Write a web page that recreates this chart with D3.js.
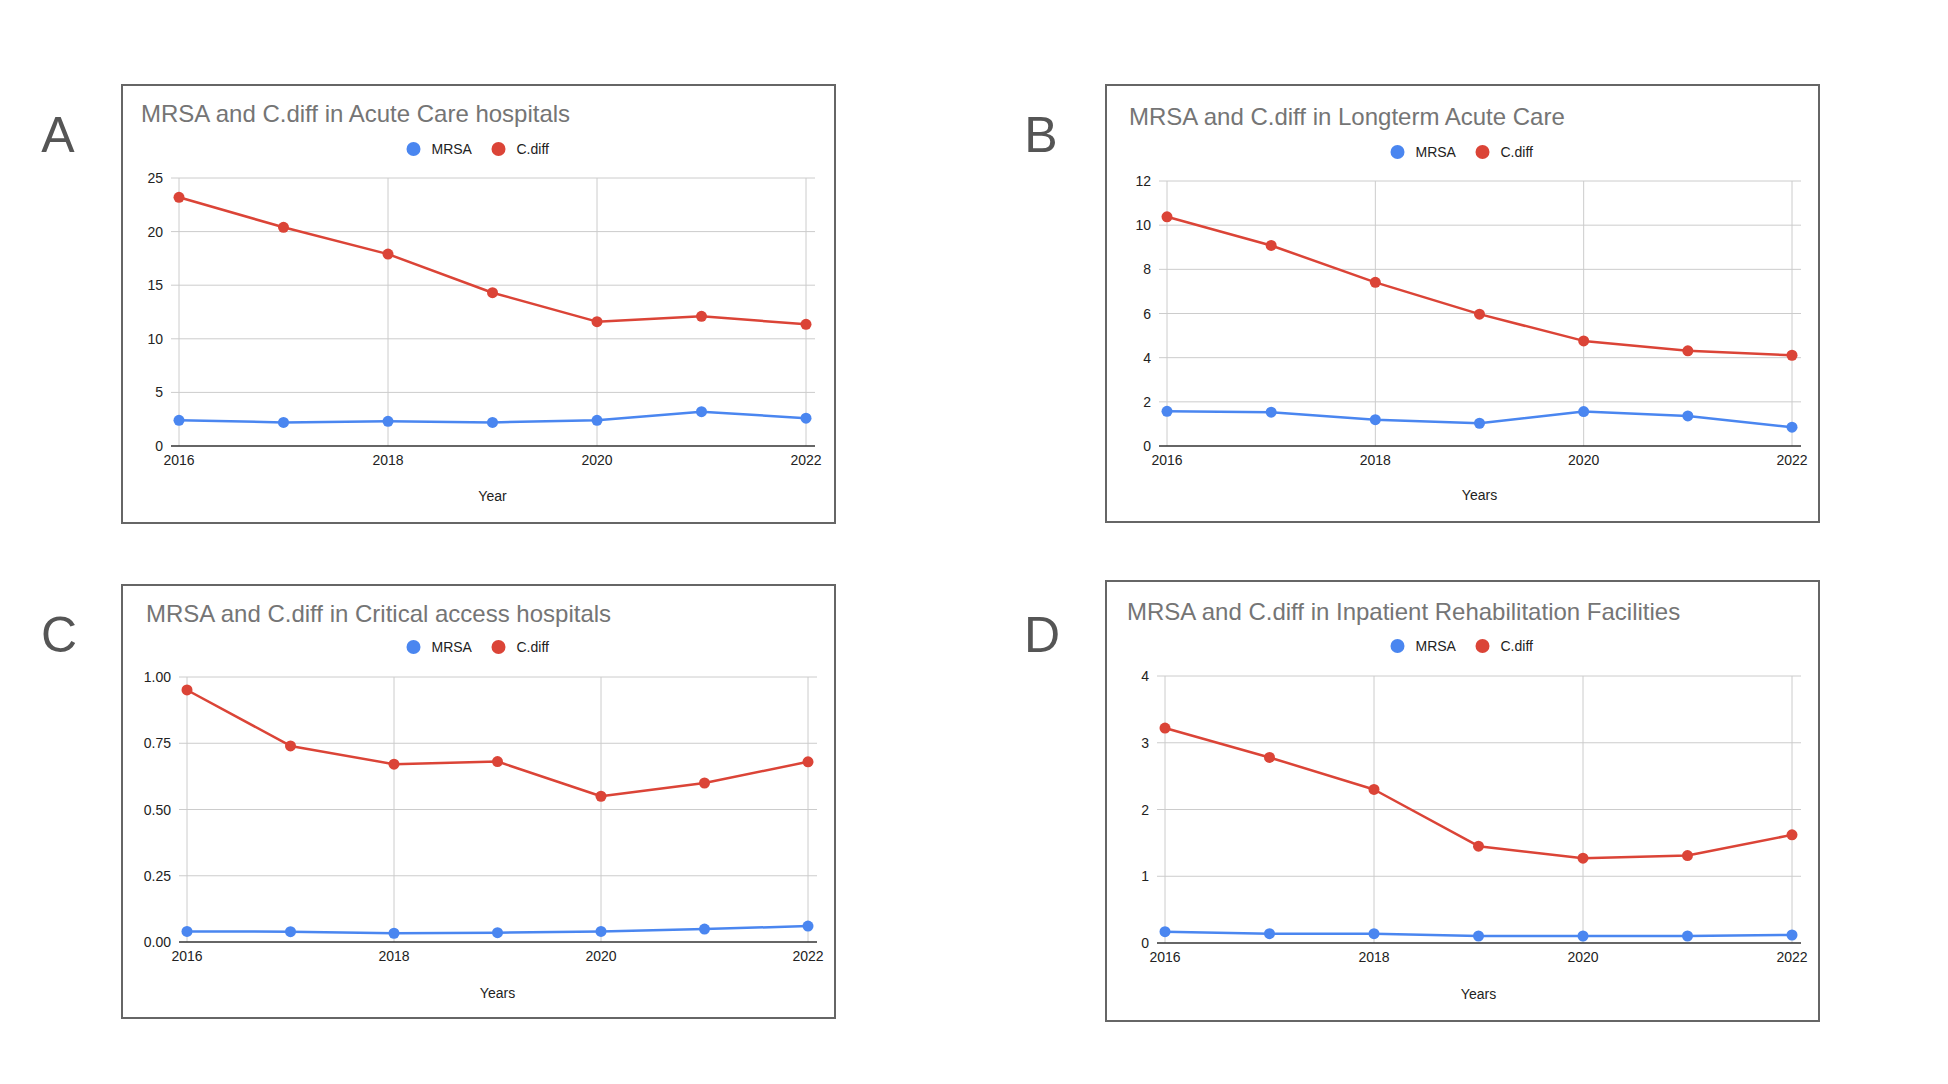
<!DOCTYPE html>
<html>
<head>
<meta charset="utf-8">
<script src="https://cdn.jsdelivr.net/npm/d3@7/dist/d3.min.js"></script>
<style>
  html, body { margin: 0; padding: 0; background: #fff; }
  svg { display: block; }
  text { font-family: "Liberation Sans", Arial, Helvetica, sans-serif; }
</style>
</head>
<body>
<svg id="chart" width="1948" height="1084"></svg>
<script>
// ---- Data ----
const years = [2016, 2017, 2018, 2019, 2020, 2021, 2022];
const xTickYears = [2016, 2018, 2020, 2022];
const seriesNames = ["MRSA", "C.diff"];
const seriesColors = ["#4a86f0", "#db4437"];

const acuteMRSA  = [2.4, 2.2, 2.3, 2.2, 2.4, 3.2, 2.6];
const acuteCdiff = [23.2, 20.4, 17.9, 14.3, 11.6, 12.1, 11.35];
const acuteTicks = [0, 5, 10, 15, 20, 25];

const ltacMRSA  = [1.57, 1.53, 1.19, 1.03, 1.56, 1.36, 0.85];
const ltacCdiff = [10.38, 9.08, 7.41, 5.97, 4.76, 4.31, 4.11];
const ltacTicks = [0, 2, 4, 6, 8, 10, 12];

const cahMRSA  = [0.040, 0.039, 0.033, 0.035, 0.040, 0.049, 0.060];
const cahCdiff = [0.951, 0.740, 0.671, 0.681, 0.550, 0.600, 0.680];
const cahTicks = [0, 0.25, 0.5, 0.75, 1.0];

const irfMRSA  = [0.17, 0.14, 0.14, 0.105, 0.105, 0.105, 0.12];
const irfCdiff = [3.22, 2.78, 2.30, 1.45, 1.27, 1.31, 1.62];
const irfTicks = [0, 1, 2, 3, 4];

const panelLetters = ["A", "B", "C", "D"];
const panelTitles = [
  "MRSA and C.diff in Acute Care hospitals",
  "MRSA and C.diff in Longterm Acute Care",
  "MRSA and C.diff in Critical access hospitals",
  "MRSA and C.diff in Inpatient Rehabilitation Facilities"
];
const xAxisTitles = ["Year", "Years", "Years", "Years"];

// ---- Layout (positions only) ----
const layouts = [
  { box: [122, 85, 835, 523],   letter: [58, 135],   titleX: 141,  titleY: 122, legendY: 149,
    x0: 179,  x1: 806,  y0: 446, y1: 178, xLabelY: 496, fmt: d3.format("d") },
  { box: [1106, 85, 1819, 522], letter: [1041, 135], titleX: 1129, titleY: 125, legendY: 152,
    x0: 1167, x1: 1792, y0: 446, y1: 181, xLabelY: 495, fmt: d3.format("d") },
  { box: [122, 585, 835, 1018], letter: [59, 635],   titleX: 146,  titleY: 622, legendY: 647,
    x0: 187,  x1: 808,  y0: 942, y1: 677, xLabelY: 993, fmt: d3.format(".2f") },
  { box: [1106, 581, 1819, 1021], letter: [1042, 635], titleX: 1127, titleY: 620, legendY: 646,
    x0: 1165, x1: 1792, y0: 943, y1: 676, xLabelY: 994, fmt: d3.format("d") }
];

const panelData = [
  { series: [acuteMRSA, acuteCdiff], ticks: acuteTicks },
  { series: [ltacMRSA, ltacCdiff],   ticks: ltacTicks },
  { series: [cahMRSA, cahCdiff],     ticks: cahTicks },
  { series: [irfMRSA, irfCdiff],     ticks: irfTicks }
];

const svg = d3.select("#chart");

panelData.forEach((pd, i) => {
  const L = layouts[i];
  const g = svg.append("g");
  const [bx0, by0, bx1, by1] = L.box;

  // Panel letter
  g.append("text")
    .attr("x", L.letter[0]).attr("y", L.letter[1])
    .attr("text-anchor", "middle").attr("dominant-baseline", "central")
    .attr("font-size", 50).attr("fill", "#555")
    .text(panelLetters[i]);

  // Box
  g.append("rect")
    .attr("x", bx0).attr("y", by0)
    .attr("width", bx1 - bx0).attr("height", by1 - by0)
    .attr("fill", "#fff").attr("stroke", "#666").attr("stroke-width", 2);

  // Title
  g.append("text")
    .attr("x", L.titleX).attr("y", L.titleY)
    .attr("font-size", 24).attr("fill", "#757575")
    .text(panelTitles[i]);

  // Legend
  const cx = (bx0 + bx1) / 2;
  const legendX = [cx - 65, cx + 20];
  seriesNames.forEach((name, k) => {
    g.append("circle")
      .attr("cx", legendX[k]).attr("cy", L.legendY).attr("r", 7)
      .attr("fill", seriesColors[k]);
    g.append("text")
      .attr("x", legendX[k] + 18).attr("y", L.legendY)
      .attr("dominant-baseline", "central")
      .attr("font-size", 14).attr("fill", "#222")
      .text(name);
  });

  const x = d3.scaleLinear().domain([2016, 2022]).range([L.x0, L.x1]);
  const y = d3.scaleLinear().domain([0, d3.max(pd.ticks)]).range([L.y0, L.y1]);
  const areaL = L.x0 - 8, areaR = L.x1 + 9;

  // Horizontal gridlines
  g.append("g")
    .selectAll("line").data(pd.ticks.filter(t => t !== 0)).join("line")
    .attr("x1", areaL).attr("x2", areaR)
    .attr("y1", d => y(d)).attr("y2", d => y(d))
    .attr("stroke", "#cccccc").attr("stroke-width", 1);

  // Vertical gridlines
  g.append("g")
    .selectAll("line").data(xTickYears).join("line")
    .attr("x1", d => x(d)).attr("x2", d => x(d))
    .attr("y1", y.range()[1]).attr("y2", L.y0)
    .attr("stroke", "#cccccc").attr("stroke-width", 1);

  // Baseline
  g.append("line")
    .attr("x1", areaL).attr("x2", areaR)
    .attr("y1", L.y0).attr("y2", L.y0)
    .attr("stroke", "#333").attr("stroke-width", 1.5);

  // Y tick labels
  g.append("g")
    .selectAll("text").data(pd.ticks).join("text")
    .attr("x", areaL - 8).attr("y", d => y(d))
    .attr("text-anchor", "end").attr("dominant-baseline", "central")
    .attr("font-size", 14).attr("fill", "#222")
    .text(d => L.fmt(d));

  // X tick labels
  g.append("g")
    .selectAll("text").data(xTickYears).join("text")
    .attr("x", d => x(d)).attr("y", L.y0 + 14)
    .attr("text-anchor", "middle").attr("dominant-baseline", "central")
    .attr("font-size", 14).attr("fill", "#222")
    .text(d => d);

  // X axis title
  g.append("text")
    .attr("x", (L.x0 + L.x1) / 2).attr("y", L.xLabelY)
    .attr("text-anchor", "middle").attr("dominant-baseline", "central")
    .attr("font-size", 14).attr("fill", "#222")
    .text(xAxisTitles[i]);

  // Series
  const line = d3.line().x((d, j) => x(years[j])).y(d => y(d));
  pd.series.forEach((vals, k) => {
    g.append("path")
      .datum(vals)
      .attr("d", line)
      .attr("fill", "none")
      .attr("stroke", seriesColors[k])
      .attr("stroke-width", 2.5)
      .attr("stroke-linejoin", "round");
    g.append("g")
      .selectAll("circle").data(vals).join("circle")
      .attr("cx", (d, j) => x(years[j]))
      .attr("cy", d => y(d))
      .attr("r", 5.5)
      .attr("fill", seriesColors[k]);
  });
});
</script>
</body>
</html>
